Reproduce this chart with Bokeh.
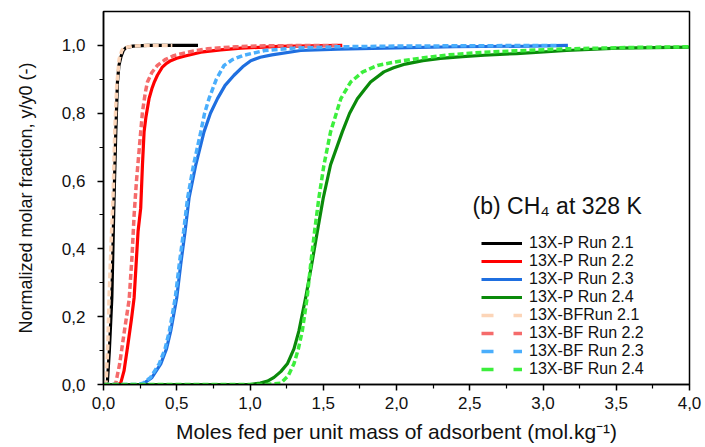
from bokeh.plotting import figure
from bokeh.models import (FixedTicker, CustomJSTickFormatter, Legend, LegendItem, Label, Range1d)
from bokeh.embed import file_html
from bokeh.resources import INLINE

nan = float("nan")

# ---- data ----
x_p21 = [0, 0.02, 0.027, 0.04, 0.057, 0.072, 0.084, 0.095, 0.105, 0.118, 0.135, 0.152, 0.2, 0.3, 0.45, 0.645]
y_p21 = [0, 0, 0.01, 0.1, 0.256, 0.55, 0.745, 0.89, 0.94, 0.965, 0.985, 0.993, 0.998, 1.0, 1.0, 1.0]

x_bf21 = [0, 0.012, 0.018, 0.03, 0.038, 0.052, 0.065, 0.077, 0.09, 0.107, 0.125, 0.14, 0.2, 0.3, 0.47]
y_bf21 = [0, 0, 0.01, 0.12, 0.256, 0.42, 0.55, 0.75, 0.88, 0.96, 0.985, 0.993, 0.998, 1.0, 1.0]

x_p22 = [0, 0.1, 0.118, 0.14, 0.164, 0.19, 0.209, 0.222, 0.236, 0.254, 0.266, 0.277, 0.29, 0.311, 0.33, 0.345, 0.368, 0.4, 0.43, 0.459, 0.5, 0.55, 0.664, 0.8, 0.937, 1.2, 1.63]
y_p22 = [0, 0, 0.005, 0.04, 0.11, 0.19, 0.256, 0.35, 0.452, 0.52, 0.648, 0.745, 0.79, 0.843, 0.872, 0.89, 0.912, 0.935, 0.947, 0.955, 0.962, 0.968, 0.98, 0.987, 0.992, 0.997, 1.0]

x_bf22 = [0, 0.07, 0.084, 0.11, 0.14, 0.175, 0.195, 0.209, 0.225, 0.245, 0.266, 0.285, 0.3, 0.33, 0.368, 0.42, 0.48, 0.6, 0.71, 0.9, 1.1, 1.6]
y_bf22 = [0, 0, 0.005, 0.06, 0.15, 0.25, 0.38, 0.5, 0.6, 0.7, 0.804, 0.86, 0.892, 0.92, 0.941, 0.958, 0.97, 0.982, 0.99, 0.996, 0.999, 1.0]

x_p23 = [0, 0.25, 0.277, 0.33, 0.391, 0.43, 0.459, 0.5, 0.527, 0.557, 0.584, 0.63, 0.686, 0.73, 0.778, 0.83, 0.891, 0.95, 1.005, 1.07, 1.15, 1.346, 1.6, 1.91, 2.4, 2.9, 3.17]
y_p23 = [0, 0, 0.004, 0.02, 0.061, 0.105, 0.158, 0.256, 0.354, 0.452, 0.55, 0.648, 0.745, 0.8, 0.843, 0.882, 0.912, 0.937, 0.955, 0.965, 0.972, 0.985, 0.989, 0.992, 0.996, 0.998, 1.0]

x_bf23 = [0, 0.24, 0.27, 0.32, 0.38, 0.42, 0.45, 0.49, 0.517, 0.547, 0.574, 0.615, 0.664, 0.69, 0.72, 0.77, 0.823, 0.88, 0.95, 1.1, 1.3, 1.6, 2.0, 2.5, 3.1]
y_bf23 = [0, 0, 0.004, 0.02, 0.061, 0.105, 0.158, 0.256, 0.354, 0.452, 0.55, 0.648, 0.745, 0.8, 0.843, 0.9, 0.941, 0.958, 0.97, 0.985, 0.992, 0.996, 0.998, 0.999, 1.0]

x_p24 = [0, 1.0, 1.07, 1.12, 1.164, 1.21, 1.255, 1.3, 1.334, 1.38, 1.421, 1.46, 1.5, 1.55, 1.63, 1.68, 1.733, 1.778, 1.823, 1.914, 1.98, 2.06, 2.18, 2.3, 2.45, 2.6, 2.82, 3.16, 3.51, 4.0]
y_p24 = [0, 0, 0.004, 0.01, 0.021, 0.038, 0.061, 0.105, 0.158, 0.256, 0.354, 0.452, 0.55, 0.648, 0.745, 0.8, 0.843, 0.868, 0.892, 0.922, 0.934, 0.945, 0.955, 0.962, 0.967, 0.971, 0.976, 0.985, 0.992, 0.995]

x_bf24 = [0, 1.1, 1.21, 1.26, 1.30, 1.33, 1.357, 1.39, 1.414, 1.441, 1.47, 1.505, 1.55, 1.62, 1.687, 1.77, 1.87, 2.0, 2.14, 2.35, 2.6, 3.16, 3.6, 4.0]
y_bf24 = [0, 0, 0.004, 0.025, 0.061, 0.105, 0.158, 0.256, 0.354, 0.452, 0.55, 0.648, 0.745, 0.843, 0.892, 0.922, 0.941, 0.952, 0.961, 0.972, 0.98, 0.99, 0.994, 0.996]

labels_p = ["13X-P Run 2.1", "13X-P Run 2.2", "13X-P Run 2.3", "13X-P Run 2.4"]
labels_bf = ["13X-BFRun 2.1", "13X-BF Run 2.2", "13X-BF Run 2.3", "13X-BF Run 2.4"]
colors_p = ["#000000", "#ff0000", "#1f6fe0", "#0a8a0a"]
colors_bf = ["#fcd5b8", "#f56b6b", "#4aaefc", "#3cee3c"]

x_ticks = [0, 0.5, 1.0, 1.5, 2.0, 2.5, 3.0, 3.5, 4.0]
x_minor = [0.25, 0.75, 1.25, 1.75, 2.25, 2.75, 3.25, 3.75]
y_ticks = [0, 0.2, 0.4, 0.6, 0.8, 1.0]
y_minor = [0.1, 0.3, 0.5, 0.7, 0.9]

x_title = "Moles fed per unit mass of adsorbent (mol.kg⁻¹)"
y_title = "Normalized molar fraction, y/y0 (-)"
panel_title = "(b) CH₄ at 328 K"

FONT = "Liberation Sans"
TXT = "#111111"

p = figure(width=703, height=446, output_backend="svg", toolbar_location=None,
           x_range=Range1d(0, 4.0), y_range=Range1d(0, 1.1),
           min_border_left=103, min_border_right=14, min_border_top=11, min_border_bottom=62)
p.xgrid.visible = False
p.ygrid.visible = False
p.outline_line_color = "black"
p.outline_line_width = 1.5
p.background_fill_color = "white"
p.border_fill_color = "white"

series_p = [(x_p21, y_p21), (x_p22, y_p22), (x_p23, y_p23), (x_p24, y_p24)]
series_bf = [(x_bf21, y_bf21), (x_bf22, y_bf22), (x_bf23, y_bf23), (x_bf24, y_bf24)]

for (xs, ys), c in zip(series_p, colors_p):
    p.line(xs, ys, line_color=c, line_width=3.2)
for (xs, ys), c in zip(series_bf, colors_bf):
    p.line(xs, ys, line_color=c, line_width=3.5, line_dash="6 3")

items = []
for lab, c in zip(labels_p, colors_p):
    r = p.line([nan, nan], [nan, nan], line_color=c, line_width=3.2)
    items.append(LegendItem(label=lab, renderers=[r]))
for lab, c in zip(labels_bf, colors_bf):
    r = p.line([nan, nan], [nan, nan], line_color=c, line_width=3.5, line_dash="12 20")
    items.append(LegendItem(label=lab, renderers=[r]))

legend = Legend(items=items, location=(378, 6), padding=0, margin=0, spacing=0,
                glyph_width=41, glyph_height=18, label_height=18, label_standoff=7,
                border_line_color=None, background_fill_alpha=0,
                label_text_font=FONT, label_text_font_size="16px", label_text_color=TXT)
p.add_layout(legend, "center")

title = Label(x=3.097, y=0.525, text=panel_title, text_align="center", text_baseline="middle",
              text_font=FONT, text_font_size="23px", text_color=TXT)
p.add_layout(title)

fmt = CustomJSTickFormatter(code="return tick.toFixed(1).replace('.', ',');")
for ax in (p.xaxis[0], p.yaxis[0]):
    ax.formatter = fmt
    ax.axis_line_width = 1.5
    ax.major_tick_line_width = 1.5
    ax.minor_tick_line_width = 1.2
    ax.major_tick_in = 0
    ax.major_tick_out = 6
    ax.minor_tick_in = 0
    ax.minor_tick_out = 4
    ax.major_label_text_font = FONT
    ax.major_label_text_font_size = "17px"
    ax.major_label_text_color = TXT
    ax.axis_label_text_font = FONT
    ax.axis_label_text_font_style = "normal"
    ax.axis_label_text_color = TXT

p.xaxis[0].ticker = FixedTicker(ticks=x_ticks, minor_ticks=x_minor)
p.yaxis[0].ticker = FixedTicker(ticks=y_ticks, minor_ticks=y_minor)
p.xaxis[0].axis_label = x_title
p.yaxis[0].axis_label = y_title
p.xaxis[0].axis_label_text_font_size = "21px"
p.yaxis[0].axis_label_text_font_size = "18px"
p.xaxis[0].major_label_standoff = 6
p.xaxis[0].axis_label_standoff = 8
p.yaxis[0].major_label_standoff = 12
p.yaxis[0].axis_label_standoff = 23

open("out.html", "w").write(file_html(p, INLINE))
